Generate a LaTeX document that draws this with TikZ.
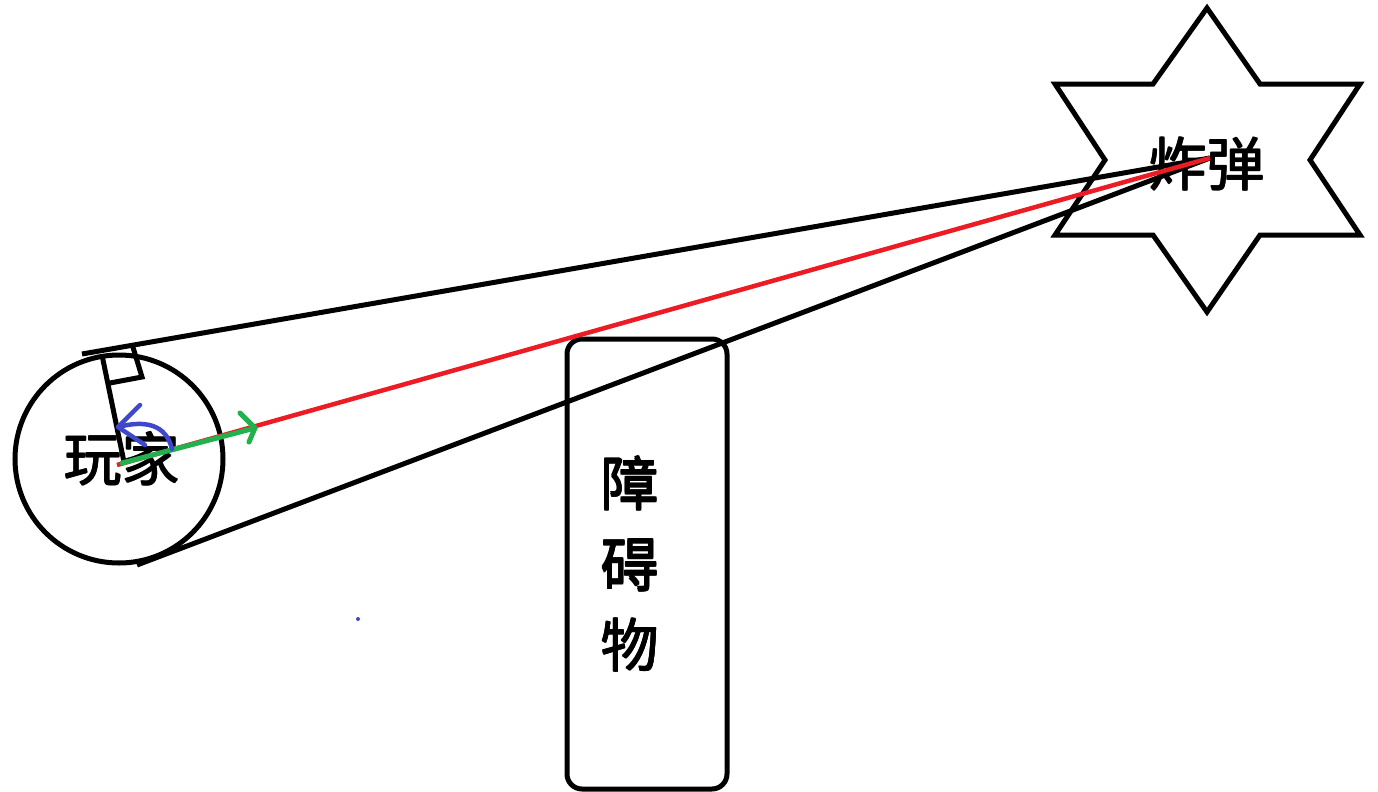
\documentclass[tikz,border=0pt]{standalone}
\usepackage{fontspec}
\newfontfamily\cjk{Noto Sans CJK SC}
\begin{document}
\begin{tikzpicture}[x=1pt,y=-1pt,
  ln/.style={line width=5pt,black,line join=miter},
  lbl/.style={font=\cjk\fontsize{58}{58}\selectfont,inner sep=0pt},
  redline/.style={line width=4.5pt,color=pred},
  greenline/.style={line width=5pt,color=pgreen,line cap=round},
  blueline/.style={line width=4.5pt,color=pblue,line cap=round,line join=round}]
\definecolor{pred}{RGB}{237,28,36}
\definecolor{pgreen}{RGB}{34,177,76}
\definecolor{pblue}{RGB}{63,72,204}
\fill[white] (0,0) rectangle (1378,792);
\useasboundingbox (0,0) rectangle (1378,792);

% named points
\coordinate (pc) at (119,459);
\coordinate (bc) at (1210,158);
\coordinate (tanU) at (102,355);
\coordinate (startU) at (82,354);
\coordinate (startL) at (137,565);
\coordinate (radEnd) at (124,462);

% texts (slightly emboldened by overprinting)
\foreach \dx/\dy [count=\i] in {-0.4/-0.4,0.4/-0.4,-0.4/0.4,0.4/0.4}{
  \node[lbl] (player\i) at (122+\dx,459+\dy) {玩家};
  \node[lbl] (bomb\i) at (1207+\dx,164+\dy) {炸弹};
}

% player circle
\draw[ln] (pc) circle (104);

% bomb star
\draw[ln] (1207,8) -- (1260,84) -- (1360,84) -- (1310,160) -- (1360,235) -- (1260,235)
  -- (1207,312) -- (1153,235) -- (1055,235) -- (1105,160) -- (1055,84) -- (1153,84) -- cycle;

% obstacle
\draw[ln,rounded corners=15pt] (567,339) rectangle (727,789);
\foreach \dx/\dy [count=\i] in {-0.9/-0.9,0.9/-0.9,-0.9/0.9,0.9/0.9,0/0}{
  \node[lbl] (obsA\i) at (630+\dx,483+\dy) {障};
  \node[lbl] (obsB\i) at (630+\dx,565+\dy) {碍};
  \node[lbl] (obsC\i) at (630+\dx,645+\dy) {物};
}

% tangent lines
\draw[ln] (startU) -- (bc);
\draw[ln] (startL) -- (bc);

% radius to tangent point and right-angle mark
\draw[ln] (radEnd) -- (tanU);
\draw[ln] (110,383) -- (142,377) -- (132,344);

% red line of sight
\draw[redline] (117,465) -- (bc);

% green direction arrow
\coordinate (gtip) at (255,428);
\draw[greenline] (122,463) -- (gtip);
\draw[greenline] (240,413) -- (gtip) -- (249,442);

% blue rotation arrow
\coordinate (btip) at (118,427);
\draw[blueline] (172,449) .. controls (166,424) and (145,420) .. (btip);
\draw[blueline] (140,405) -- (btip) -- (145,445);

% blue dot
\fill[pblue] (358,619) circle (2);
\end{tikzpicture}
\end{document}
